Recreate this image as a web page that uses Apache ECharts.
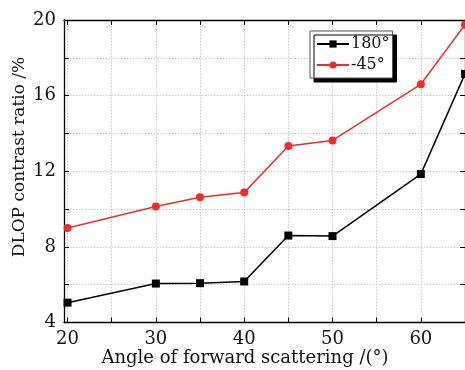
<!DOCTYPE html>
<html>
<head>
<meta charset="utf-8">
<script src="https://cdn.jsdelivr.net/npm/echarts@6/dist/echarts.min.js"></script>
<style>
html,body{margin:0;padding:0;background:#fff;}
#c{width:465px;height:370px;}
</style>
</head>
<body>
<div id="c"></div>
<script>
var angles = [20, 30, 35, 40, 45, 50, 60, 65];
var s180 = [5.05, 6.06, 6.08, 6.17, 8.6, 8.57, 11.85, 17.15];
var sM45 = [9.0, 10.14, 10.63, 10.87, 13.33, 13.63, 16.6, 19.75];
var xLabels = [20, 30, 40, 50, 60];
var xTicks = [20, 25, 30, 35, 40, 45, 50, 55, 60];
var yLabels = [4, 8, 12, 16, 20];
var seriesNames = ['180°', '-45°'];
var xTitle = 'Angle of forward scattering /(°)';
var yTitle = 'DLOP contrast ratio /%';

var font = 'DejaVu Serif';
function pairs(xs, ys){ return xs.map(function(x,i){return [x, ys[i]];}); }

var chart = echarts.init(document.getElementById('c'));
var axisLineStyle = {color:'#000', width:1.3};
var gridLine = {show:true, lineStyle:{color:'#c8c8c8', type:[1.5,1.5], width:1}};
chart.setOption({
  animation:false,
  backgroundColor:'#fff',
  grid:{left:64, right:0, top:20, bottom:47.5},
  xAxis:[
    {type:'value', position:'bottom', min:19.6, max:65,
     axisLine:{lineStyle:axisLineStyle},
     axisTick:{inside:true, length:5, customValues:xTicks, lineStyle:{color:'#000'}},
     axisLabel:{customValues:xLabels, color:'#111', fontFamily:font, fontSize:18, margin:8},
     splitLine:gridLine},
    {type:'value', position:'top', min:19.6, max:65,
     axisLine:{lineStyle:axisLineStyle},
     axisTick:{inside:true, length:5, customValues:xTicks, lineStyle:{color:'#000'}},
     axisLabel:{show:false}, splitLine:{show:false}}
  ],
  yAxis:[
    {type:'value', position:'left', min:4, max:20, interval:2,
     axisLine:{show:true, lineStyle:axisLineStyle},
     axisTick:{show:true, inside:true, length:5, lineStyle:{color:'#000'}},
     axisLabel:{color:'#111', fontFamily:font, fontSize:18, margin:8,
       formatter:function(v){ return yLabels.indexOf(v) >= 0 ? String(v) : ''; }},
     splitLine:gridLine},
    {type:'value', position:'right', min:4, max:20, interval:2,
     axisLine:{show:true, lineStyle:axisLineStyle},
     axisTick:{show:true, inside:true, length:5, lineStyle:{color:'#000'}},
     axisLabel:{show:false}, splitLine:{show:false}}
  ],
  legend:{
    orient:'vertical', left:310, top:31,
    padding:[5,3,5,6], itemGap:5, itemWidth:32, itemHeight:9,
    backgroundColor:'#fff', borderColor:'#555', borderWidth:1,
    shadowColor:'#000', shadowBlur:0, shadowOffsetX:4, shadowOffsetY:4,
    textStyle:{fontFamily:font, fontSize:16, color:'#111', padding:[0,0,0,-3]},
    data:seriesNames
  },
  series:[
    {name:seriesNames[0], type:'line', data:pairs(angles, s180),
     symbol:'rect', symbolSize:8, color:'#000',
     lineStyle:{color:'#000', width:1.5}, itemStyle:{color:'#000'}},
    {name:seriesNames[1], type:'line', data:pairs(angles, sM45),
     symbol:'circle', symbolSize:8, color:'#ee2c2c',
     lineStyle:{color:'#ee2c2c', width:1.5}, itemStyle:{color:'#ee2c2c'}}
  ],
  graphic:[
    {type:'text', style:{text:xTitle, font:'18px "DejaVu Serif"', fill:'#111', x:245, y:358, align:'center', verticalAlign:'middle'}},
    {type:'text', style:{text:yTitle, font:'17px "DejaVu Serif"', fill:'#111', x:0, y:0, align:'center', verticalAlign:'middle'}, x:20, y:157, rotation:Math.PI/2}
  ]
});
</script>
</body>
</html>
